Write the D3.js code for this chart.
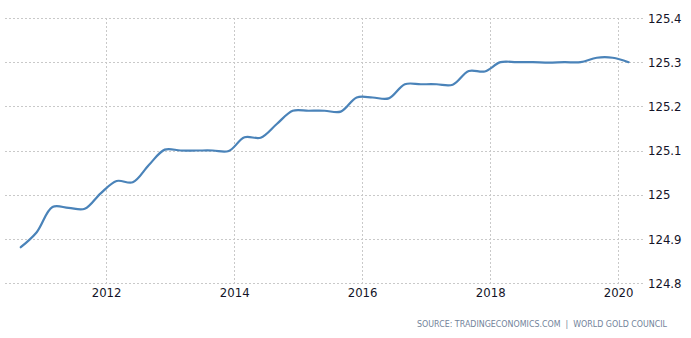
<!DOCTYPE html>
<html>
<head>
<meta charset="utf-8">
<script src="https://cdn.jsdelivr.net/npm/d3@7"></script>
<style>
  html, body { margin: 0; padding: 0; background: #fff; }
  svg { display: block; }
  .tick-label { font-family: "Liberation Sans Narrow", "Arial Narrow", "DejaVu Sans Condensed", "Liberation Sans", Arial, sans-serif; font-size: 13px; fill: #141428; }
  .source { font-family: "DejaVu Sans", Verdana, sans-serif; font-size: 8.5px; fill: #72839a; white-space: pre; }
</style>
</head>
<body>
<script>
// Quarterly readings (tonnes), plotted at the last month of each quarter
const periods = [
  "2010-09","2010-12",
  "2011-03","2011-06","2011-09","2011-12",
  "2012-03","2012-06","2012-09","2012-12",
  "2013-03","2013-06","2013-09","2013-12",
  "2014-03","2014-06","2014-09","2014-12",
  "2015-03","2015-06","2015-09","2015-12",
  "2016-03","2016-06","2016-09","2016-12",
  "2017-03","2017-06","2017-09","2017-12",
  "2018-03","2018-06","2018-09","2018-12",
  "2019-03","2019-06","2019-09","2019-12",
  "2020-03"
];
const reserves = [
  124.881, 124.915,
  124.972, 124.970, 124.968, 125.003,
  125.031, 125.028, 125.067, 125.102,
  125.100, 125.100, 125.100, 125.099,
  125.130, 125.129, 125.160, 125.190,
  125.190, 125.190, 125.188, 125.220,
  125.220, 125.218, 125.250, 125.250,
  125.250, 125.249, 125.280, 125.279,
  125.300, 125.300, 125.300, 125.299,
  125.300, 125.300, 125.310, 125.310,
  125.300
];
const yTicks = [124.8, 124.9, 125, 125.1, 125.2, 125.3, 125.4];
const xTickYears = [2012, 2014, 2016, 2018, 2020];
const sourceText = "SOURCE: TRADINGECONOMICS.COM  |  WORLD GOLD COUNCIL";

const W = 691, H = 338;
const plot = { left: 5, right: 643, top: 18, bottom: 283 };

const parseMonth = d3.timeParse("%Y-%m");
const data = periods.map((p, i) => ({ date: parseMonth(p), value: reserves[i] }));

const x = d3.scaleTime()
  .domain([new Date(2010, 5, 3), new Date(2020, 4, 22)])
  .range([plot.left, plot.right]);
const y = d3.scaleLinear()
  .domain([124.8, 125.4])
  .range([plot.bottom, plot.top]);

const svg = d3.select("body").append("svg")
  .attr("width", W).attr("height", H);

// dotted grid
const grid = svg.append("g")
  .attr("stroke", "#c9c9c9")
  .attr("stroke-width", 1)
  .attr("stroke-dasharray", "2,2");
grid.selectAll("line.h").data(yTicks).join("line")
  .attr("class", "h")
  .attr("x1", plot.left).attr("x2", plot.right)
  .attr("y1", d => Math.round(y(d)) + 0.5).attr("y2", d => Math.round(y(d)) + 0.5);
grid.selectAll("line.v").data(xTickYears).join("line")
  .attr("class", "v")
  .attr("x1", d => Math.round(x(new Date(d, 0, 1))) + 0.5)
  .attr("x2", d => Math.round(x(new Date(d, 0, 1))) + 0.5)
  .attr("y1", plot.top).attr("y2", plot.bottom);

// right value axis
const yAxis = d3.axisRight(y).tickValues(yTicks).tickSize(0).tickPadding(5)
  .tickFormat(d => String(d));
const ya = svg.append("g").attr("transform", `translate(${plot.right},0)`).call(yAxis);
ya.select(".domain").remove();
ya.selectAll("text").attr("class", "tick-label").attr("fill", null);

// bottom time axis
const xAxis = d3.axisBottom(x)
  .tickValues(xTickYears.map(yr => new Date(yr, 0, 1)))
  .tickSize(0).tickPadding(5)
  .tickFormat(d3.timeFormat("%Y"));
const xa = svg.append("g").attr("transform", `translate(0,${plot.bottom})`).call(xAxis);
xa.select(".domain").remove();
xa.selectAll("text").attr("class", "tick-label").attr("fill", null);

// series line, smoothed through each quarterly point
const line = d3.line()
  .x(d => x(d.date))
  .y(d => y(d.value))
  .curve(d3.curveCatmullRom.alpha(0.5));
svg.append("path")
  .datum(data)
  .attr("fill", "none")
  .attr("stroke", "#4a83b9")
  .attr("stroke-width", 2.2)
  .attr("stroke-linejoin", "round")
  .attr("stroke-linecap", "round")
  .attr("d", line);

// source credit
svg.append("text")
  .attr("class", "source")
  .attr("x", 417).attr("y", 327)
  .attr("textLength", 250)
  .attr("lengthAdjust", "spacingAndGlyphs")
  .text(sourceText);
</script>
</body>
</html>
